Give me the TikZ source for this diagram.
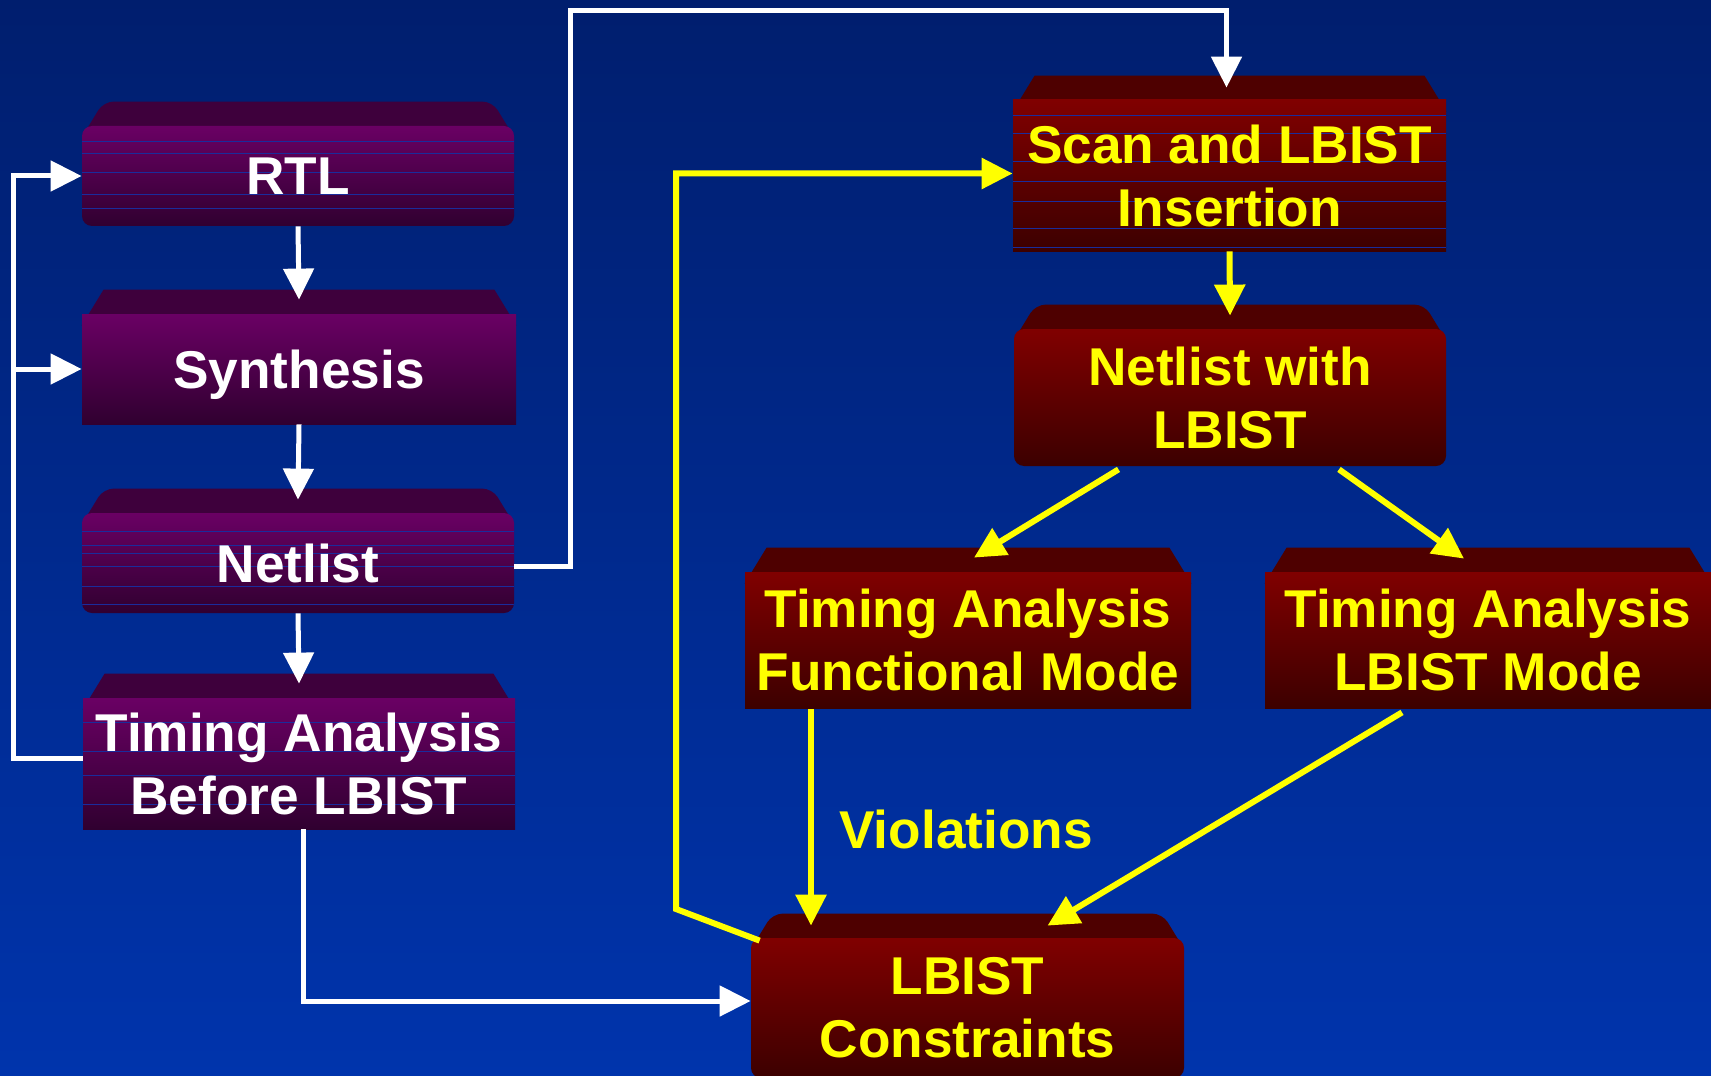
\documentclass[tikz,border=0pt]{standalone}
\usepackage{fontspec}
\setmainfont{Liberation Sans}
\usetikzlibrary{arrows.meta,calc}

\definecolor{bgtop}{HTML}{001E6E}
\definecolor{bgbot}{HTML}{0034AC}
\definecolor{purtop}{HTML}{6A0064}
\definecolor{purbot}{HTML}{300030}
\definecolor{purlid}{HTML}{3E003C}
\definecolor{redtop}{HTML}{800000}
\definecolor{redbot}{HTML}{3C0000}
\definecolor{redlid}{HTML}{4E0000}
\definecolor{stripeblue}{HTML}{1A2C9C}
\definecolor{ylw}{HTML}{FFFF00}

\pgfdeclarelayer{bg}
\pgfdeclarelayer{lids}
\pgfsetlayers{bg,lids,main}

% slanted top face of a block, drawn behind its front face
\newcommand\drawlid[3][]{%
  \begin{pgfonlayer}{lids}
    \fill[#3,#1] ([shift={(0,12)}]#2.north west) -- ([shift={(22,-24)}]#2.north west)
      -- ([shift={(-22,-24)}]#2.north east) -- ([shift={(0,12)}]#2.north east) -- cycle;
  \end{pgfonlayer}}

\begin{document}
\begin{tikzpicture}[x=0.5pt,y=-0.5pt,
  box/.style={inner sep=0pt, align=center,
    font=\bfseries\fontsize{26.6}{31.5}\selectfont},
  purplebox/.style={box, top color=purtop, bottom color=purbot, text=white},
  redbox/.style={box, top color=redtop, bottom color=redbot, text=ylw},
  roundbox/.style={rounded corners=5pt},
  stripes/.style={path picture={
    \foreach \f in {#1}{
      \draw[stripeblue, line width=0.5pt]
        ($(path picture bounding box.north west)!\f!(path picture bounding box.south west)$) --
        ($(path picture bounding box.north east)!\f!(path picture bounding box.south east)$);}}},
  tip/.style={-{Triangle[length=15.5pt,width=15pt]}},
  warrow/.style={draw=white, line width=2.5pt, tip},
  yarrow/.style={draw=ylw, line width=3pt, tip},
  label/.style={font=\bfseries\fontsize{26.6}{31.5}\selectfont, text=ylw, inner sep=0pt}
]
\useasboundingbox (0,0) rectangle (1711,1075);
\begin{pgfonlayer}{bg}
  \shade[top color=bgtop, bottom color=bgbot] (0,0) rectangle (1711,1075);
\end{pgfonlayer}

% left column
\node[purplebox, roundbox, stripes={0.16,0.28,0.47,0.69,0.82},
  minimum width=216pt, minimum height=50pt] (rtl) at (298,176) {RTL};
\node[purplebox, text depth=0pt, minimum width=217pt, minimum height=55pt] (syn) at (299,369) {Synthesis};
\node[purplebox, roundbox, stripes={0.18,0.32,0.4,0.53,0.73,0.91},
  minimum width=216pt, minimum height=50pt] (net) at (298,563) {Netlist};
\node[purplebox, stripes={0.19,0.41,0.59,0.81},
  minimum width=216pt, minimum height=65.5pt] (tab) at (299,763.5) {Timing Analysis\\Before LBIST};

% right part
\node[redbox, stripes={0.1,0.22,0.41,0.54,0.67,0.85,0.98},
  minimum width=216.5pt, minimum height=75.5pt] (scan) at (1229.5,175.5) {Scan and LBIST\\Insertion};
\node[redbox, roundbox, minimum width=216pt, minimum height=68.5pt] (nwl) at (1230,397.5) {Netlist with\\LBIST};
\node[redbox, minimum width=223pt, minimum height=68pt] (taf) at (968,640) {Timing Analysis\\Functional Mode};
\node[redbox, minimum width=223pt, minimum height=68pt] (tal) at (1488,640) {Timing Analysis\\LBIST Mode};
\node[redbox, roundbox, minimum width=216.5pt, minimum height=70pt] (lc) at (967.5,1008) {LBIST\\Constraints};
\node[label] (viol) at (966,829) {Violations};

% top faces
\drawlid[rounded corners=5pt]{rtl}{purlid}
\drawlid{syn}{purlid}
\drawlid[rounded corners=5pt]{net}{purlid}
\drawlid{tab}{purlid}
\drawlid{scan}{redlid}
\drawlid[rounded corners=5pt]{nwl}{redlid}
\drawlid{taf}{redlid}
\drawlid{tal}{redlid}
\drawlid[rounded corners=5pt]{lc}{redlid}

% white flow
\draw[warrow] (rtl.south) -- ([shift={(0,-14)}]syn.north);
\draw[warrow] (syn.south) -- ([shift={(0,-13)}]net.north);
\draw[warrow] (net.south) -- ([shift={(0,-14)}]tab.north);
\coordinate (fb) at (13,176);
\draw[warrow] ([shift={(0,-5)}]tab.west) -| (fb) -- (rtl.west);
\draw[warrow] (fb |- syn.west) -- (syn.west);
\coordinate (nbend) at (570,11);
\draw[warrow] ([shift={(0,3)}]net.east) -| (nbend) -| ([shift={(-3,-12)}]scan.north);
\draw[warrow] ([shift={(4,0)}]tab.south) |- ([shift={(0,-7)}]lc.west);

% yellow flow
\draw[yarrow] (scan.south) -- ([shift={(0,-13)}]nwl.north);
\draw[yarrow] ([shift={(-111.5,3)}]nwl.south) -- ([shift={(6,-14)}]taf.north);
\draw[yarrow] ([shift={(109,3)}]nwl.south) -- ([shift={(-24,-13)}]tal.north);
\draw[yarrow] ([shift={(-157,1)}]taf.south) -- ([shift={(-156.5,-12)}]lc.north);
\draw[yarrow] ([shift={(-86,4)}]tal.south) -- ([shift={(80,-12)}]lc.north);
\coordinate (ybend) at (676,909);
\draw[yarrow] ([shift={(9,3)}]lc.north west) -- (ybend) |- ([shift={(0,-2)}]scan.west);
\end{tikzpicture}
\end{document}
